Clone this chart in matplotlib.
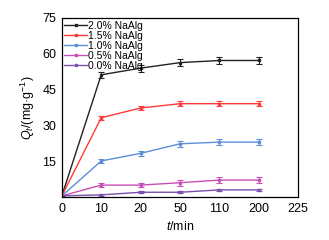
import matplotlib
matplotlib.use("Agg")
import matplotlib.pyplot as plt
from matplotlib.lines import Line2D

plt.rcParams['font.family'] = ['Liberation Sans', 'DejaVu Sans']
plt.rcParams['mathtext.fontset'] = 'custom'
plt.rcParams['mathtext.it'] = 'Liberation Sans:italic'
plt.rcParams['mathtext.rm'] = 'Liberation Sans'

# time points (min), drawn at equal spacing
time_labels = ["0", "10", "20", "50", "110", "200", "225"]
n_points = 6

labels = ["2.0% NaAlg", "1.5% NaAlg", "1.0% NaAlg", "0.5% NaAlg", "0.0% NaAlg"]
colors = ["#222222", "#ff3b3b", "#5b8fd6", "#c84fb8", "#7a4fae"]

q_20 = [0.5, 51.2, 54.0, 56.3, 57.2, 57.2]
q_15 = [0.5, 33.2, 37.3, 39.1, 39.1, 39.1]
q_10 = [0.5, 15.1, 18.3, 22.3, 23.0, 23.0]
q_05 = [0.5, 5.0, 5.0, 6.0, 7.1, 7.1]
q_00 = [0.5, 0.9, 2.0, 2.0, 3.0, 3.0]

err_20 = [0, 1.2, 1.5, 1.5, 1.5, 1.5]
err_15 = [0, 0.8, 1.0, 1.0, 1.0, 1.0]
err_10 = [0, 0.8, 1.0, 1.2, 1.2, 1.2]
err_05 = [0, 1.0, 1.0, 1.2, 1.2, 1.2]
err_00 = [0, 0.3, 0.5, 0.5, 0.5, 0.5]

series = [q_20, q_15, q_10, q_05, q_00]
errors = [err_20, err_15, err_10, err_05, err_00]

fig = plt.figure(figsize=(3.29, 2.40), dpi=100)
ax = fig.add_axes([0.188, 0.179, 0.718, 0.746])

x = list(range(n_points))
handles = []
for y, e, c, lab in zip(series, errors, colors, labels):
    ax.errorbar(x, y, yerr=e, color=c, lw=1.0, marker='s', ms=2,
                elinewidth=0.8, capsize=2, capthick=0.8, ecolor=c)
    handles.append(Line2D([], [], color=c, lw=1.0, marker='s', ms=2,
                          label=lab))

ax.set_xlim(0, len(time_labels) - 1)
ax.set_xticks(range(len(time_labels)))
ax.set_xticklabels(time_labels)
ax.set_ylim(0, 75)
ax.set_yticks([15, 30, 45, 60, 75])
ax.tick_params(length=0, labelsize=9, pad=4)
for s in ax.spines.values():
    s.set_linewidth(0.9)

ax.set_xlabel("$t$/min", fontsize=9, labelpad=4)
ax.set_ylabel("$Q_t$/(mg·g$^{-1}$)", fontsize=9, labelpad=4)

ax.legend(handles=handles, loc='upper left', fontsize=7.5, frameon=False,
          handlelength=2.2, labelspacing=0.0, borderaxespad=0.1,
          handletextpad=0.1, borderpad=0.15)

fig.savefig("out.png", dpi=100)
